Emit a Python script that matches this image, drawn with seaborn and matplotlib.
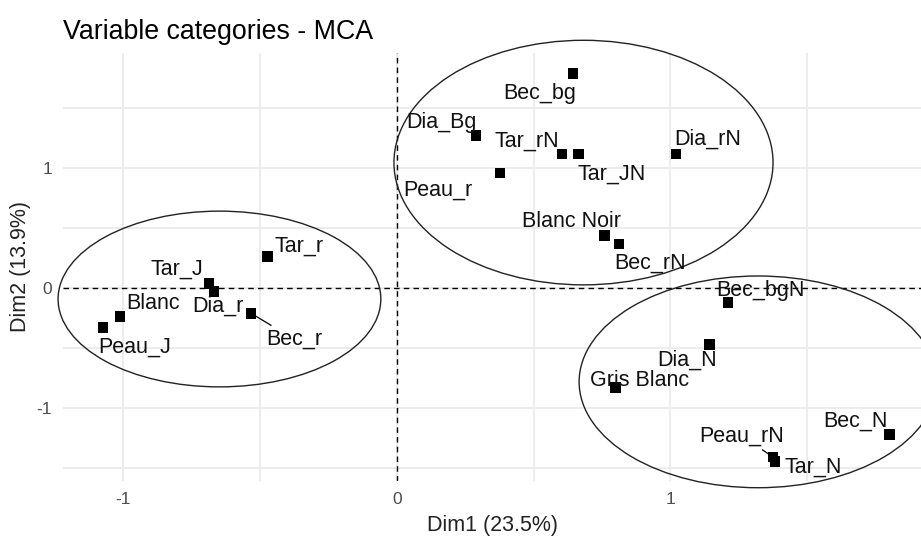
import matplotlib
matplotlib.use("Agg")
import matplotlib.pyplot as plt
from matplotlib.patches import Ellipse
import seaborn as sns
import pandas as pd

# MCA coordinates of the variable categories
categories = ["Bec_bg", "Dia_Bg", "Tar_rN", "Tar_JN", "Dia_rN", "Peau_r",
              "Blanc Noir", "Bec_rN", "Tar_r", "Tar_J", "Dia_r", "Bec_r",
              "Blanc", "Peau_J", "Bec_bgN", "Dia_N", "Gris Blanc", "Peau_rN",
              "Tar_N", "Bec_N"]
dim1 = [0.644, 0.289, 0.603, 0.665, 1.020, 0.377,
        0.760, 0.812, -0.472, -0.687, -0.669, -0.534,
        -1.013, -1.075, 1.210, 1.144, 0.800, 1.375,
        1.382, 1.800]
dim2 = [1.79, 1.275, 1.117, 1.117, 1.117, 0.96,
        0.44, 0.367, 0.26, 0.04, -0.03, -0.21,
        -0.24, -0.33, -0.12, -0.47, -0.83, -1.41,
        -1.45, -1.225]
axis_titles = ["Dim1 (23.5%)", "Dim2 (13.9%)"]
title = "Variable categories - MCA"

# Cluster ellipses: centre x, centre y, half-width, half-height
ellipses = [(-0.649, -0.092, 0.590, 0.733),
            (0.682, 1.046, 0.693, 1.020),
            (1.320, -0.783, 0.654, 0.883)]

# label offsets in pixels (dx right, dy down) and whether a leader line is drawn
label_offsets = {
    "Bec_bg": (-33, 20, False), "Dia_Bg": (-35, -13, False),
    "Tar_rN": (-35, -13, False), "Tar_JN": (33, 20, False),
    "Dia_rN": (32, -15, False), "Peau_r": (-62, 17, False),
    "Blanc Noir": (-33, -14, False), "Bec_rN": (31, 19, False),
    "Tar_r": (31, -11, False), "Tar_J": (-32, -14, False),
    "Dia_r": (4, 15, False), "Bec_r": (43, 26, True),
    "Blanc": (33, -13, False), "Peau_J": (32, 20, False),
    "Bec_bgN": (33, -12, False), "Dia_N": (-23, 16, False),
    "Gris Blanc": (24, -7, False), "Peau_rN": (-31, -21, True),
    "Tar_N": (38, 5, False), "Bec_N": (-34, -14, False),
}

df = pd.DataFrame({"label": categories, "Dim1": dim1, "Dim2": dim2})

sns.set_theme(style="whitegrid")
plt.rcParams["font.family"] = ["Liberation Sans", "DejaVu Sans"]
plt.rcParams["axes.unicode_minus"] = False

DPI = 100
fig = plt.figure(figsize=(9.21, 5.38), dpi=DPI)
ax = fig.add_axes([63 / 921, 57 / 538, 1 - 63 / 921, 428 / 538])
ax.set_facecolor("white")

ax.set_xlim(-1.221, 1.916)
ax.set_ylim(-1.61, 1.96)
ax.set_xticks([-1, 0, 1])
ax.set_yticks([-1, 0, 1])
ax.set_xticks([-0.5, 0.5, 1.5], minor=True)
ax.set_yticks([-1.5, -0.5, 0.5, 1.5], minor=True)
ax.grid(which="major", color="#EBEBEB", linewidth=1.3)
ax.grid(which="minor", color="#EBEBEB", linewidth=1.3)
for s in ax.spines.values():
    s.set_visible(False)
ax.tick_params(which="major", length=4, width=1, color="#4D4D4D",
               labelsize=12.5, labelcolor="#4D4D4D", pad=4)
ax.tick_params(which="minor", length=0)

ax.axhline(0, color="black", linestyle=(0, (4, 3)), linewidth=1.0, zorder=2)
ax.axvline(0, color="black", linestyle=(0, (4, 3)), linewidth=1.0, zorder=2)

for cx, cy, rx, ry in ellipses:
    ax.add_patch(Ellipse((cx, cy), 2 * rx, 2 * ry, fill=False,
                         edgecolor="#222222", linewidth=1.0, clip_on=False,
                         zorder=3))

sns.scatterplot(data=df, x="Dim1", y="Dim2", marker="s", s=60, color="black",
                edgecolor="none", ax=ax, zorder=4, legend=False)

px_to_pt = 72 / DPI
for lab, x, y in zip(categories, dim1, dim2):
    dx, dy, line = label_offsets[lab]
    kw = {}
    if line:
        kw["arrowprops"] = dict(arrowstyle="-", color="black", lw=0.9,
                                shrinkA=0, shrinkB=4)
    ax.annotate(lab, (x, y), xytext=(dx * px_to_pt, -dy * px_to_pt),
                textcoords="offset points", ha="center", va="center",
                fontsize=15.5, color="#111111", zorder=5, **kw)

ax.set_xlabel(axis_titles[0], fontsize=15.5, color="#222222", labelpad=6)
ax.set_ylabel(axis_titles[1], fontsize=15.5, color="#222222", labelpad=4)
ax.set_title(title, fontsize=19.3, loc="left", color="black", pad=10)

fig.savefig("out.png", dpi=DPI)
